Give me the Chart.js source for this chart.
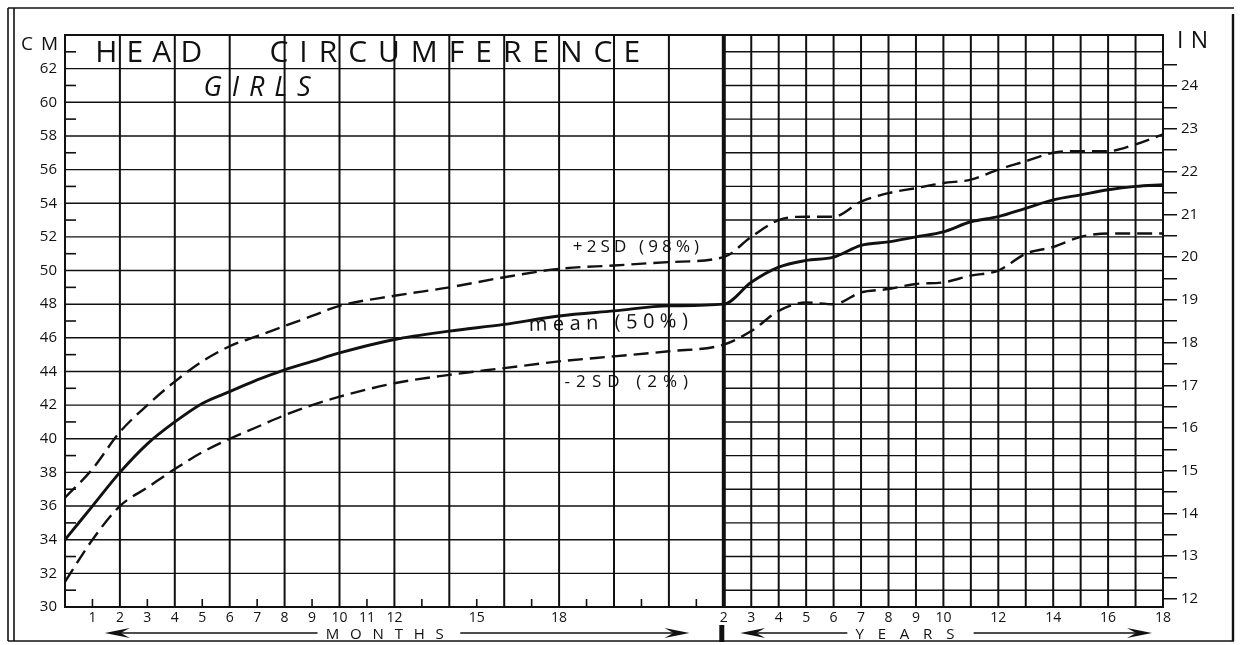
<!DOCTYPE html>
<html>
<head>
<meta charset="utf-8">
<title>Head Circumference - Girls</title>
<script src="https://cdn.jsdelivr.net/npm/chart.js@4"></script>
<style>
html,body{margin:0;padding:0;background:#fff}
canvas{display:block}
</style>
</head>
<body>
<canvas id="chart" width="1242" height="645"></canvas>
<script>
// =============================================================
// 1. Data (cm)
// =============================================================
var MONTH_AGES   = [0, 1, 2, 3, 4, 5, 6, 7, 8, 9, 10, 12, 14, 16, 18, 20, 22, 24];
var MEAN_MONTHS  = [34.0, 36.0, 38.0, 39.7, 41.0, 42.1, 42.8, 43.5, 44.1, 44.6, 45.1, 45.9, 46.4, 46.8, 47.3, 47.6, 47.9, 48.0];
var PLUS_MONTHS  = [36.5, 38.2, 40.4, 42.0, 43.4, 44.6, 45.5, 46.1, 46.7, 47.3, 47.9, 48.5, 49.0, 49.6, 50.1, 50.3, 50.5, 50.8];
var MINUS_MONTHS = [31.5, 34.0, 36.0, 37.1, 38.2, 39.2, 40.0, 40.7, 41.4, 42.0, 42.5, 43.3, 43.8, 44.2, 44.6, 44.9, 45.2, 45.6];

var YEAR_AGES   = [3, 4, 5, 6, 7, 8, 9, 10, 11, 12, 13, 14, 15, 16, 17, 18];
var MEAN_YEARS  = [49.3, 50.2, 50.6, 50.8, 51.5, 51.7, 52.0, 52.3, 52.9, 53.2, 53.7, 54.2, 54.5, 54.8, 55.0, 55.1];
var PLUS_YEARS  = [52.0, 53.0, 53.2, 53.2, 54.1, 54.6, 54.9, 55.2, 55.4, 56.0, 56.5, 57.0, 57.1, 57.1, 57.5, 58.1];
var MINUS_YEARS = [46.4, 47.6, 48.1, 48.0, 48.7, 48.9, 49.2, 49.3, 49.7, 50.0, 51.0, 51.4, 52.0, 52.2, 52.2, 52.2];

var MONTH_LABELS = [1, 2, 3, 4, 5, 6, 7, 8, 9, 10, 11, 12, 15, 18];
var YEAR_LABELS  = [2, 3, 4, 5, 6, 7, 8, 9, 10, 12, 14, 16, 18];
var INCH_LABELS  = [12, 13, 14, 15, 16, 17, 18, 19, 20, 21, 22, 23, 24];

// =============================================================
// 2. Helpers
// =============================================================
var INK = '#111111';
var FONT = '"Open Sans", "DejaVu Sans", sans-serif';

// the x axis runs one month per unit up to 24 months, then one year per unit
function yearToX(yr) { return 24 + (yr - 2); }

function series(monthVals, yearVals) {
  var pts = MONTH_AGES.map(function (m, i) { return { x: m, y: monthVals[i] }; });
  return pts.concat(YEAR_AGES.map(function (a, i) { return { x: yearToX(a), y: yearVals[i] }; }));
}

var X_TICKS = MONTH_LABELS.map(function (m) { return { v: m, t: String(m) }; })
  .concat(YEAR_LABELS.map(function (yr) { return { v: yearToX(yr), t: String(yr) }; }));

var IN_TICKS = [];
INCH_LABELS.forEach(function (v) { IN_TICKS.push(v, v + 0.5); });

function line(ctx, x0, y0, x1, y1) {
  ctx.beginPath(); ctx.moveTo(x0, y0); ctx.lineTo(x1, y1); ctx.stroke();
}

// draw text stretched from x0 to x1 (end of the last glyph) by letter spacing
function spread(ctx, text, x0, x1, y) {
  ctx.letterSpacing = '0px';
  var w = ctx.measureText(text).width;
  var gap = Math.max(0, (x1 - x0 - w) / Math.max(1, text.length - 1));
  ctx.letterSpacing = gap.toFixed(2) + 'px';
  ctx.textAlign = 'left';
  ctx.fillText(text, x0, y);
  ctx.letterSpacing = '0px';
}

function arrow(ctx, xFrom, xTip, y) {
  var dir = xTip > xFrom ? 1 : -1;
  ctx.lineWidth = 1.5;
  line(ctx, xFrom, y, xTip - dir * 10, y);
  ctx.beginPath();
  ctx.moveTo(xTip, y);
  ctx.lineTo(xTip - dir * 25, y - 5);
  ctx.lineTo(xTip - dir * 16, y);
  ctx.lineTo(xTip - dir * 25, y + 5);
  ctx.closePath();
  ctx.fill();
}

// =============================================================
// 3. Grid paper + annotations
// =============================================================
var paper = {
  id: 'paper',
  beforeDatasetsDraw: function (chart) {
    var ctx = chart.ctx, a = chart.chartArea, x = chart.scales.x, y = chart.scales.y;
    var split = x.getPixelForValue(24);
    ctx.save();
    ctx.strokeStyle = INK;

    // horizontal rules: every 2 cm for months, every cm for years
    ctx.lineWidth = 1.4;
    for (var cm = 31; cm < 64; cm++) {
      var py = y.getPixelForValue(cm);
      line(ctx, cm % 2 === 0 ? a.left : split, py, a.right, py);
    }
    // vertical rules
    ctx.lineWidth = 2;
    for (var u = 2; u < 24; u += 2) line(ctx, x.getPixelForValue(u), a.top, x.getPixelForValue(u), a.bottom);
    for (u = 25; u < 40; u++) line(ctx, x.getPixelForValue(u), a.top, x.getPixelForValue(u), a.bottom);

    // outer box of the plot
    ctx.lineWidth = 2;
    ctx.strokeRect(a.left, a.top, a.right - a.left, a.bottom - a.top);

    // months | years divider
    ctx.lineWidth = 4;
    line(ctx, split, a.top, split, a.bottom);

    // minor ticks: odd cm on the left, odd months at the bottom
    ctx.lineWidth = 1.6;
    for (cm = 31; cm < 64; cm += 2) {
      var ty = y.getPixelForValue(cm);
      line(ctx, a.left, ty, a.left + 11, ty);
    }
    for (u = 1; u < 24; u += 2) {
      var tx = x.getPixelForValue(u);
      line(ctx, tx, a.bottom, tx, a.bottom - 8);
    }
    ctx.restore();
  },
  afterDraw: function (chart) {
    var ctx = chart.ctx, a = chart.chartArea, x = chart.scales.x, y = chart.scales.y;
    var X = function (v) { return x.getPixelForValue(v); };
    var Y = function (v) { return y.getPixelForValue(v); };
    ctx.save();
    ctx.fillStyle = INK;
    ctx.strokeStyle = INK;
    ctx.textBaseline = 'alphabetic';

    // title
    ctx.font = '30px ' + FONT;
    spread(ctx, 'HEAD', X(1.1), X(5.0), Y(62.4));
    spread(ctx, 'CIRCUMFERENCE', X(7.45), X(20.95), Y(62.4));
    ctx.font = 'italic 27px ' + FONT;
    spread(ctx, 'GIRLS', X(5.05), X(8.95), Y(60.4));

    // unit captions
    ctx.font = '19px ' + FONT;
    spread(ctx, 'CM', a.left - 44, a.left - 7, a.top + 15);
    ctx.font = '23px ' + FONT;
    spread(ctx, 'IN', a.right + 14, a.right + 45, a.top + 13);

    // curve labels
    ctx.font = '17px ' + FONT;
    spread(ctx, '+2SD (98%)', X(18.5), X(23.1), Y(51.1));
    spread(ctx, '-2SD (2%)', X(18.2), X(22.7), Y(43.1));
    ctx.save();
    ctx.translate(X(16.9), Y(46.4));
    ctx.rotate(-1.5 * Math.PI / 180);
    ctx.font = '20px ' + FONT;
    spread(ctx, 'mean (50%)', 0, X(22.7) - X(16.9), 0);
    ctx.restore();

    // MONTHS / YEARS captions with arrows
    var ay = a.bottom + 26;
    ctx.font = '15px ' + FONT;
    spread(ctx, 'MONTHS', X(9.5), X(13.8), ay + 6);
    spread(ctx, 'YEARS', X(28.8), X(32.4), ay + 6);
    arrow(ctx, X(9.2), X(1.45), ay);
    arrow(ctx, X(14.4), X(22.75), ay);
    arrow(ctx, X(28.5), X(24.6), ay);
    arrow(ctx, X(33.1), X(39.6), ay);
    ctx.lineWidth = 5;
    line(ctx, X(24) - 2, a.bottom + 18, X(24) - 2, a.bottom + 35);

    // page frame
    ctx.lineWidth = 1.6;
    line(ctx, 8, 8, 1234, 8);
    line(ctx, 8, 8, 8, 641);
    line(ctx, 14, 8, 14, 641);
    line(ctx, 8, 641, 1234, 641);
    ctx.lineWidth = 2.4;
    line(ctx, 1233, 14, 1233, 641);
    ctx.restore();
  }
};

// =============================================================
// 4. Chart
// =============================================================
function curve(label, data, width, dash) {
  return {
    label: label, data: data,
    borderColor: INK, borderWidth: width, borderDash: dash,
    pointRadius: 0, fill: false, cubicInterpolationMode: 'monotone'
  };
}

new Chart(document.getElementById('chart'), {
  type: 'line',
  data: {
    datasets: [
      curve('+2SD (98%)', series(PLUS_MONTHS, PLUS_YEARS), 2.4, [15, 7]),
      curve('mean (50%)', series(MEAN_MONTHS, MEAN_YEARS), 2.9, []),
      curve('-2SD (2%)', series(MINUS_MONTHS, MINUS_YEARS), 2.4, [15, 7])
    ]
  },
  options: {
    responsive: false,
    animation: false,
    events: [],
    layout: { padding: { left: 15, right: 19, top: 35, bottom: 14 } },
    plugins: { legend: { display: false }, tooltip: { enabled: false } },
    scales: {
      x: {
        type: 'linear', min: 0, max: 40,
        grid: { display: false, drawTicks: false }, border: { display: false },
        afterBuildTicks: function (s) { s.ticks = X_TICKS.map(function (t) { return { value: t.v }; }); },
        afterFit: function (s) { s.height = 24; },
        ticks: {
          autoSkip: false, maxRotation: 0, padding: 3, color: INK,
          font: { family: FONT, size: 14 },
          callback: function (v, i) { return X_TICKS[i] ? X_TICKS[i].t : ''; }
        }
      },
      y: {
        position: 'left', min: 30, max: 64,
        grid: { display: false, drawTicks: false }, border: { display: false },
        afterFit: function (s) { s.width = 50; },
        ticks: {
          stepSize: 2, padding: 8, color: INK,
          font: { family: FONT, size: 15 },
          callback: function (v) { return v >= 64 ? '' : String(v); }
        }
      },
      yIn: {
        position: 'right', min: 30 / 2.54, max: 64 / 2.54,
        border: { display: false },
        grid: { drawOnChartArea: false, drawTicks: true, tickLength: 14, color: INK, lineWidth: 1.5 },
        afterBuildTicks: function (s) { s.ticks = IN_TICKS.map(function (v) { return { value: v }; }); },
        afterFit: function (s) { s.width = 60; },
        ticks: {
          padding: 4, color: INK,
          font: { family: FONT, size: 15 },
          callback: function (v) { return Number.isInteger(v) ? String(v) : ''; }
        }
      }
    }
  },
  plugins: [paper]
});
</script>
</body>
</html>
